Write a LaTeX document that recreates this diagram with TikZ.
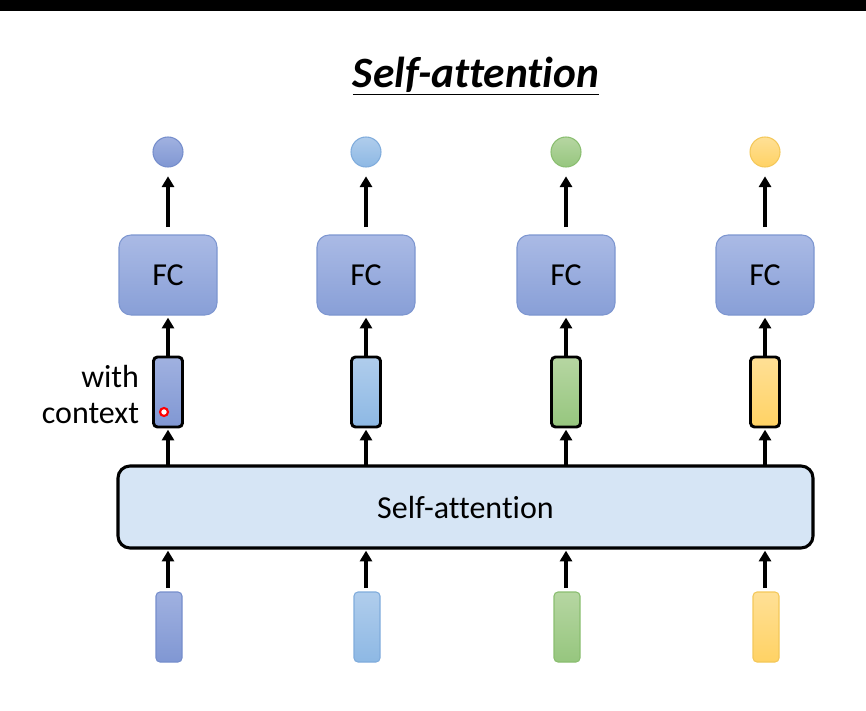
\documentclass[tikz,border=0pt]{standalone}
\usepackage{fontspec}
\setmainfont{Carlito}[Ligatures=NoCommon]
\usetikzlibrary{arrows.meta}
\definecolor{fcTop}{RGB}{170,186,229}
\definecolor{fcBot}{RGB}{136,159,215}
\definecolor{fcLine}{RGB}{125,150,208}
\definecolor{bTop}{RGB}{160,177,224}
\definecolor{bBot}{RGB}{128,151,211}
\definecolor{bLine}{RGB}{118,142,204}
\definecolor{lbTop}{RGB}{176,205,236}
\definecolor{lbBot}{RGB}{141,184,228}
\definecolor{lbLine}{RGB}{128,172,220}
\definecolor{gTop}{RGB}{182,214,162}
\definecolor{gBot}{RGB}{150,198,126}
\definecolor{gLine}{RGB}{138,190,112}
\definecolor{yTop}{RGB}{255,224,150}
\definecolor{yBot}{RGB}{255,210,100}
\definecolor{yLine}{RGB}{244,200,90}
\definecolor{saFill}{RGB}{214,229,245}
\begin{document}
\begin{tikzpicture}[x=0.75pt,y=-0.75pt,
  every node/.style={inner sep=0pt, outer sep=0pt},
  txt/.style={font=\fontsize{24pt}{28pt}\selectfont, text=black},
  fcbox/.style={draw=fcLine, line width=0.8pt, rounded corners=9pt, top color=fcTop, bottom color=fcBot,
    minimum width=73.5pt, minimum height=60pt, txt},
  ctxbox/.style={draw=black, line width=2.2pt, rounded corners=3pt, minimum width=21.75pt, minimum height=52.5pt},
  inbox/.style={line width=0.8pt, rounded corners=3pt, minimum width=19.5pt, minimum height=52.5pt},
  outdot/.style={circle, line width=0.8pt, minimum size=22.5pt},
  arr/.style={line width=2.4pt, -{Triangle[width=9pt,length=8pt]}},
]
\useasboundingbox (0,0) rectangle (866,710);
\fill[black] (0,0) rectangle (866,11);
% title
\node[font=\fontsize{32.5pt}{38pt}\selectfont\bfseries\itshape] (title) at (476,76) {\underline{Self-attention}};
% self-attention box
\node[draw=black, line width=2.3pt, rounded corners=9pt, fill=saFill, minimum width=521.25pt, minimum height=61.5pt, txt] (sa) at (465.5,507) {Self-attention};
% column 1
\node[outdot, draw=bLine, top color=bTop, bottom color=bBot] (o1) at (168,152) {};
\node[fcbox] (f1) at (168,275) {FC};
\node[ctxbox, top color=bTop, bottom color=bBot] (c1) at (168,392) {};
\node[inbox, draw=bLine, top color=bTop, bottom color=bBot] (i1) at (169,627) {};
% column 2
\node[outdot, draw=lbLine, top color=lbTop, bottom color=lbBot] (o2) at (366,152) {};
\node[fcbox] (f2) at (366,275) {FC};
\node[ctxbox, top color=lbTop, bottom color=lbBot] (c2) at (366,392) {};
\node[inbox, draw=lbLine, top color=lbTop, bottom color=lbBot] (i2) at (367,627) {};
% column 3
\node[outdot, draw=gLine, top color=gTop, bottom color=gBot] (o3) at (566,152) {};
\node[fcbox] (f3) at (566,275) {FC};
\node[ctxbox, top color=gTop, bottom color=gBot] (c3) at (566,392) {};
\node[inbox, draw=gLine, top color=gTop, bottom color=gBot] (i3) at (567,627) {};
% column 4
\node[outdot, draw=yLine, top color=yTop, bottom color=yBot] (o4) at (765,152) {};
\node[fcbox] (f4) at (765,275) {FC};
\node[ctxbox, top color=yTop, bottom color=yBot] (c4) at (765,392) {};
\node[inbox, draw=yLine, top color=yTop, bottom color=yBot] (i4) at (766,627) {};
% labels
\node[txt, anchor=east] (w) at (139,377) {with};
\node[txt, anchor=east] (cx) at (139,413) {context};
% pointer mark
\node[circle, draw=red, line width=1.6pt, fill=white, minimum size=6pt] (ptr) at (164,412) {};
% arrows
\foreach \i in {1,2,3,4}{
  \draw[arr, shorten <=6pt, shorten >=7pt] (f\i.north) -- (o\i.south);
  \draw[arr, shorten >=2pt] (c\i.north) -- (f\i.south);
  \draw[arr, shorten >=2pt] (sa.north -| c\i) -- (c\i.south);
  \draw[arr, shorten <=3pt, shorten >=2pt] (i\i.north -| c\i) -- (sa.south -| c\i);
}
\end{tikzpicture}
\end{document}
